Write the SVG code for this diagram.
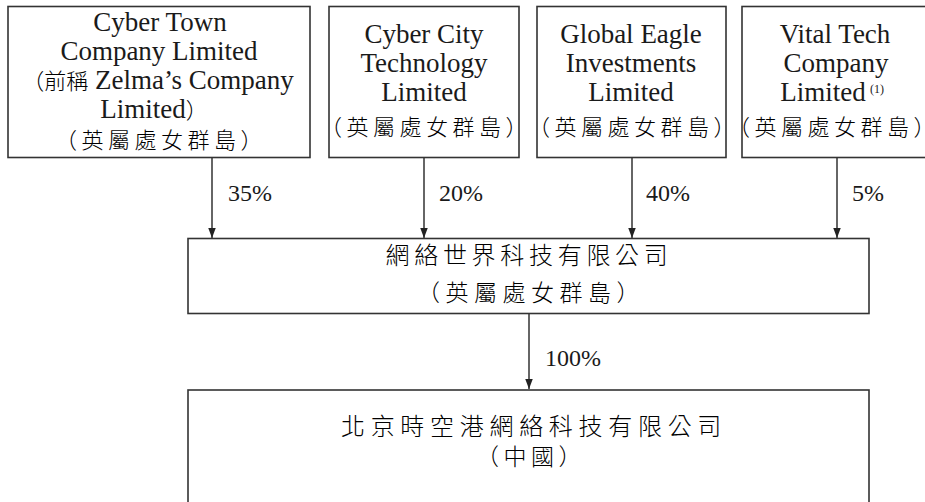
<svg xmlns="http://www.w3.org/2000/svg" width="925" height="502" viewBox="0 0 925 502">
<style>
.box{fill:#fff;stroke:#333;stroke-width:1.6}
.en{font-family:"Liberation Serif","Noto Sans CJK TC",serif;font-size:27px;fill:#1a1a1a;text-anchor:middle}
.zh{font-family:"Noto Sans CJK TC",sans-serif;font-size:22px;font-weight:300;fill:#000}
.cjk{font-family:"Noto Sans CJK TC",sans-serif;font-size:22px;letter-spacing:4.5px;fill:#000;text-anchor:middle;font-weight:300}
.cjkL{font-family:"Noto Sans CJK TC",sans-serif;font-size:24px;fill:#000;text-anchor:middle;font-weight:300}
.pct{font-family:"Liberation Serif",serif;font-size:24px;fill:#1a1a1a}
.sup{font-family:"Liberation Serif",serif;font-size:12px;fill:#1a1a1a}
.conn{stroke:#333;stroke-width:1.5;fill:none;marker-end:url(#ah)}
</style>
<defs>
<marker id="ah" markerUnits="userSpaceOnUse" markerWidth="10" markerHeight="8" refX="10" refY="3.75" orient="auto">
<path d="M0,0 L10,3.75 L0,7.5 z" fill="#222"/>
</marker>
</defs>
<rect width="925" height="502" fill="#fff"/>
<g id="connectors">
<line class="conn" x1="212" y1="157.5" x2="212" y2="238"/>
<line class="conn" x1="424" y1="157.5" x2="424" y2="238"/>
<line class="conn" x1="632" y1="157.5" x2="632" y2="238"/>
<line class="conn" x1="837" y1="157.5" x2="837" y2="238"/>
<line class="conn" x1="529" y1="313.5" x2="529" y2="389"/>
<text class="pct" x="228" y="201">35%</text>
<text class="pct" x="439" y="201">20%</text>
<text class="pct" x="646" y="201">40%</text>
<text class="pct" x="852" y="201">5%</text>
<text class="pct" x="545" y="366">100%</text>
</g>
<g id="cyber-town">
<rect class="box" x="8" y="6.5" width="302" height="151"/>
<text class="en" x="160" y="31">Cyber Town</text>
<text class="en" x="159" y="60">Company Limited</text>
<text class="en" x="158" y="89"><tspan class="zh">（前稱</tspan> Zelma’s Company</text>
<text class="en" x="154" y="118">Limited<tspan class="zh">）</tspan></text>
<text class="cjk" x="161" y="148">（英屬處女群島）</text>
</g>
<g id="cyber-city">
<rect class="box" x="329" y="6.5" width="190" height="151"/>
<text class="en" x="424" y="43">Cyber City</text>
<text class="en" x="424" y="72">Technology</text>
<text class="en" x="424" y="101">Limited</text>
<text class="cjk" x="426" y="135">（英屬處女群島）</text>
</g>
<g id="global-eagle">
<rect class="box" x="537" y="6.5" width="189" height="151"/>
<text class="en" x="631" y="43">Global Eagle</text>
<text class="en" x="631" y="72">Investments</text>
<text class="en" x="631" y="101">Limited</text>
<text class="cjk" x="634" y="135">（英屬處女群島）</text>
</g>
<g id="vital-tech">
<rect class="box" x="742" y="6.5" width="190" height="151"/>
<text class="en" x="835" y="43">Vital Tech</text>
<text class="en" x="836" y="72">Company</text>
<text class="en" x="823" y="101">Limited</text>
<text class="sup" x="870" y="93">(1)</text>
<text class="cjk" x="834" y="135">（英屬處女群島）</text>
</g>
<g id="cyber-world">
<rect class="box" x="188" y="238.5" width="681" height="75"/>
<text class="cjkL" x="529" y="264" style="letter-spacing:4.7px">網絡世界科技有限公司</text>
<text class="cjkL" x="531" y="301" style="font-size:23px;letter-spacing:5.5px">（英屬處女群島）</text>
</g>
<g id="beijing">
<rect class="box" x="188" y="390" width="681" height="130"/>
<text class="cjkL" x="534" y="435" style="letter-spacing:5.7px">北京時空港網絡科技有限公司</text>
<text class="cjkL" x="531" y="465" style="font-size:23px;letter-spacing:4.5px">（中國）</text>
</g>
</svg>
